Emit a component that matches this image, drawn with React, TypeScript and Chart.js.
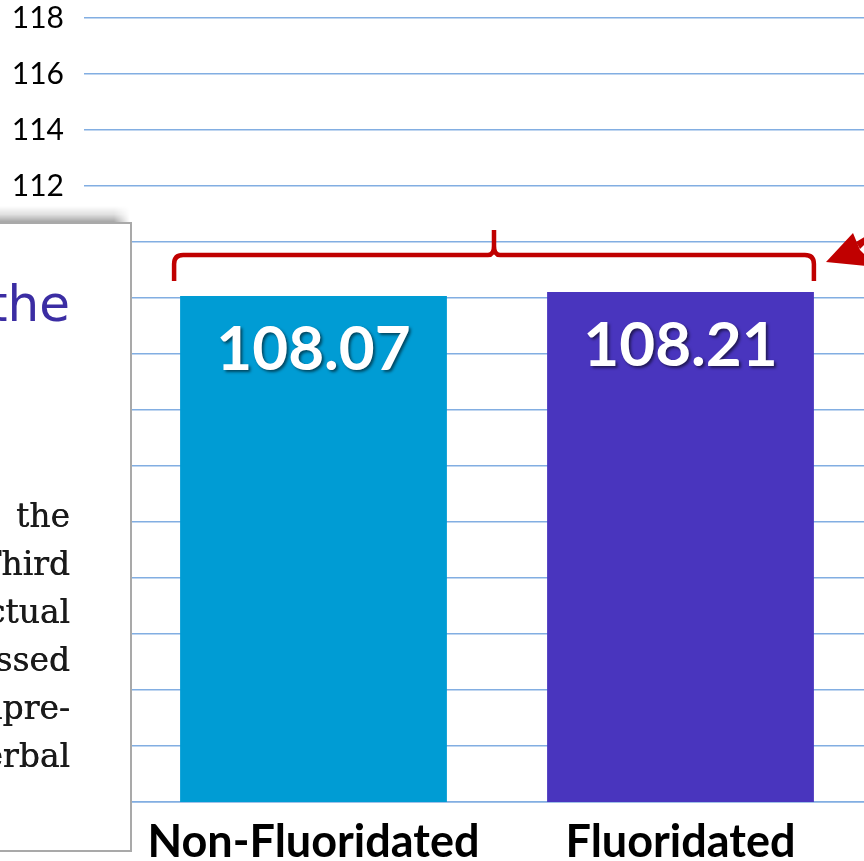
import React, { useEffect, useRef } from "react";
import { Chart, registerables } from "chart.js";

Chart.register(...registerables);

// ---- data ----
const categories = ["Non-Fluoridated", "Fluoridated"];
const iqValues = [108.07, 108.21];
const barColors = ["#009CD4", "#4935BE"];
const yMin = 90;
const yMax = 118;
const yStep = 2;
const boxHeading = "the";
const boxLines = ["the", "Third", "ctual", "ssed", "npre-", "erbal"];

const GRID = "#82AEE2";
const RED = "#C00000";

const valueLabels = {
  id: "valueLabels",
  afterDatasetsDraw(chart: any) {
    const ctx = chart.ctx;
    const meta = chart.getDatasetMeta(0);
    ctx.save();
    ctx.font = "bold 62px Lato";
    ctx.fillStyle = "#ffffff";
    ctx.textAlign = "center";
    ctx.textBaseline = "middle";
    ctx.shadowColor = "rgba(0,0,0,0.55)";
    ctx.shadowOffsetX = 2;
    ctx.shadowOffsetY = 2;
    ctx.shadowBlur = 3;
    meta.data.forEach((bar: any, i: number) => {
      ctx.fillText(iqValues[i].toFixed(2), bar.x, bar.y + 54);
    });
    ctx.restore();
  },
};

const bracketAndArrow = {
  id: "bracketAndArrow",
  afterDraw(chart: any) {
    const ctx = chart.ctx;
    const meta = chart.getDatasetMeta(0);
    const b0 = meta.data[0];
    const b1 = meta.data[1];
    const left = b0.x - b0.width / 2 - 6;
    const right = b1.x + b1.width / 2;
    const mid = (left + right) / 2;
    const yArm = 281;
    const yBar = 255;
    const yPeak = 230;
    const r = 9;
    ctx.save();
    ctx.strokeStyle = RED;
    ctx.lineWidth = 4.5;
    ctx.lineJoin = "round";
    ctx.beginPath();
    ctx.moveTo(left, yArm);
    ctx.lineTo(left, yBar + r);
    ctx.quadraticCurveTo(left, yBar, left + r, yBar);
    ctx.lineTo(mid - 6, yBar);
    ctx.quadraticCurveTo(mid, yBar, mid, yBar - 9);
    ctx.lineTo(mid, yPeak);
    ctx.moveTo(mid, yBar - 9);
    ctx.quadraticCurveTo(mid, yBar, mid + 6, yBar);
    ctx.lineTo(right - r, yBar);
    ctx.quadraticCurveTo(right, yBar, right, yBar + r);
    ctx.lineTo(right, yArm);
    ctx.stroke();

    // arrow coming in from the right edge
    ctx.fillStyle = RED;
    ctx.beginPath();
    ctx.moveTo(826, 262);
    ctx.lineTo(853, 233);
    ctx.lineTo(860, 250);
    ctx.lineTo(866, 256);
    ctx.lineTo(866, 266);
    ctx.closePath();
    ctx.fill();
    ctx.beginPath();
    ctx.moveTo(856, 242);
    ctx.lineTo(866, 236);
    ctx.lineTo(866, 243);
    ctx.lineTo(860, 249);
    ctx.closePath();
    ctx.fill();
    ctx.restore();
  },
};

function ChartCanvas() {
  const ref = useRef<HTMLCanvasElement | null>(null);
  useEffect(() => {
    if (!ref.current) return;
    const chart = new Chart(ref.current, {
      type: "bar",
      data: {
        labels: categories,
        datasets: [
          {
            data: iqValues,
            backgroundColor: barColors,
            borderWidth: 0,
            barPercentage: 0.727,
            categoryPercentage: 1,
          },
        ],
      },
      options: {
        animation: false,
        responsive: true,
        maintainAspectRatio: false,
        layout: { padding: { top: 18, left: 0, right: 0, bottom: 0 } },
        plugins: {
          legend: { display: false },
          tooltip: { enabled: false },
        },
        scales: {
          x: {
            offset: true,
            grid: { display: false, drawTicks: false },
            border: { display: true, color: GRID, width: 1.5 },
            ticks: {
              color: "#000000",
              font: { family: "Lato", size: 45, weight: "bold" },
              padding: 13,
              maxRotation: 0,
              autoSkip: false,
            },
            afterFit(scale: any) {
              scale.height = 59;
            },
          },
          y: {
            min: yMin,
            max: yMax,
            grid: {
              color: GRID,
              lineWidth: 1.5,
              drawTicks: true,
              tickLength: 46,
              tickColor: GRID,
            },
            border: { display: false },
            ticks: {
              stepSize: yStep,
              color: "#000000",
              font: { family: "Lato", size: 30 },
              padding: 20,
            },
            afterFit(scale: any) {
              scale.width = 130;
              scale.paddingTop = 0;
              scale.paddingBottom = 0;
            },
          },
        },
      },
      plugins: [valueLabels, bracketAndArrow],
    });
    return () => chart.destroy();
  }, []);
  return <canvas ref={ref} />;
}

export default function App() {
  return (
    <div
      style={{
        position: "fixed",
        left: 0,
        top: 0,
        width: 864,
        height: 861,
        background: "#ffffff",
        overflow: "hidden",
      }}
    >
      <div style={{ position: "absolute", left: 0, top: 0, width: 864, height: 861 }}>
        <ChartCanvas />
      </div>
      {/* shadow above the pasted excerpt */}
      <div
        style={{
          position: "absolute",
          left: -4,
          top: 206,
          width: 134,
          height: 17,
          background:
            "linear-gradient(to bottom, rgba(0,0,0,0) 0%, rgba(0,0,0,0.12) 50%, rgba(0,0,0,0.38) 100%)",
          WebkitMaskImage: "linear-gradient(to right, #000 88%, transparent 100%)",
          maskImage: "linear-gradient(to right, #000 88%, transparent 100%)",
        }}
      />
      {/* pasted excerpt box */}
      <div
        style={{
          position: "absolute",
          left: -4,
          top: 222,
          width: 136,
          height: 630,
          boxSizing: "border-box",
          border: "2px solid #A9A9A9",
          background: "#ffffff",
          overflow: "hidden",
        }}
      >
        <div
          style={{
            position: "absolute",
            right: 60,
            top: 55,
            whiteSpace: "nowrap",
            fontFamily: "'DejaVu Sans', sans-serif",
            fontSize: 50,
            lineHeight: "50px",
            color: "#3B2DA3",
          }}
        >
          {boxHeading}
        </div>
        <div
          style={{
            position: "absolute",
            right: 60,
            top: 268,
            textAlign: "right",
            whiteSpace: "nowrap",
            fontFamily: "'DejaVu Serif', serif",
            fontSize: 33,
            lineHeight: "48px",
            color: "#1A1A1A",
            textShadow: "0.4px 0 0 #1A1A1A",
          }}
        >
          {boxLines.map((t, i) => (
            <div key={i}>{t}</div>
          ))}
        </div>
      </div>
    </div>
  );
}
